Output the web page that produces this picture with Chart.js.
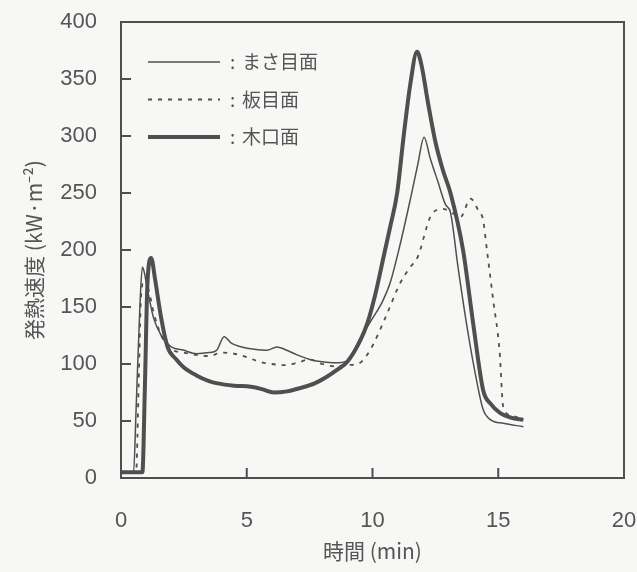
<!DOCTYPE html>
<html>
<head>
<meta charset="utf-8">
<script src="https://cdn.jsdelivr.net/npm/chart.js@4/dist/chart.umd.min.js"></script>
<style>
  body { margin: 0; background: #f7f7f5; }
  canvas { display: block; }
</style>
</head>
<body>
<canvas id="myChart" width="637" height="572"></canvas>
<script>
// series labels
var seriesNames = ["まさ目面", "板目面", "木口面"];

// まさ目面 (thin solid)
var masaTime = [0, 0.3, 0.5, 0.6, 0.75, 0.85, 0.95, 1.1, 1.3, 1.6, 2.0, 2.5, 3.0, 3.5, 3.8, 4.1, 4.4, 4.8, 5.3, 5.8, 6.2, 6.5, 7.0, 7.5, 8.0, 8.5, 9.0, 9.5, 10.0, 10.4, 10.7, 11.1, 11.5, 11.8, 12.05, 12.3, 12.6, 12.9, 13.1, 13.4, 13.8, 14.1, 14.4, 14.7, 15.2, 16.0];
var masaRate = [5, 5, 5, 60, 150, 185, 178, 160, 140, 125, 115, 112, 109, 110, 112, 124, 118, 115, 113, 112, 115, 113, 108, 104, 102, 101, 103, 122, 140, 155, 171, 205, 244, 275, 299, 280, 260, 240, 233, 185, 127, 90, 60, 51, 48, 45];

// 板目面 (dashed)
var itaTime = [0, 0.4, 0.6, 0.7, 0.8, 0.95, 1.1, 1.3, 1.6, 2.0, 2.5, 3.0, 3.5, 4.0, 4.5, 5.0, 5.5, 6.0, 6.5, 7.0, 7.5, 8.0, 8.5, 9.0, 9.5, 9.9, 10.5, 11.1, 11.5, 11.8, 12.3, 12.8, 13.2, 13.5, 13.9, 14.2, 14.4, 14.55, 14.8, 15.05, 15.2, 15.5, 16.0];
var itaRate = [5, 5, 5, 80, 160, 175, 165, 145, 125, 113, 110, 108, 107, 110, 109, 106, 102, 100, 99, 101, 104, 100, 98, 99, 101, 112, 140, 171, 185, 194, 229, 236, 232, 229, 245, 235, 226, 200, 156, 112, 62, 55, 51];

// 木口面 (thick solid)
var koguchiTime = [0, 0.5, 0.85, 0.95, 1.05, 1.2, 1.35, 1.6, 1.85, 2.2, 2.5, 3.0, 3.5, 3.84, 4.5, 5.16, 5.6, 6.08, 6.6, 7.14, 7.7, 8.2, 8.6, 9.0, 9.5, 9.8, 10.1, 10.45, 10.7, 10.98, 11.24, 11.5, 11.77, 11.95, 12.2, 12.5, 12.8, 13.1, 13.6, 14.0, 14.4, 14.7, 15.08, 15.5, 16.0];
var koguchiRate = [5, 5, 5, 80, 170, 193, 175, 140, 115, 104, 97, 90, 85, 83, 81, 80, 78, 75, 76, 79, 83, 89, 95, 102, 120, 136, 160, 195, 220, 250, 300, 345, 374, 362, 330, 295, 270, 250, 200, 136, 77, 65, 57, 53, 51];

// axis ticks
var xTicks = [0, 5, 10, 15, 20];
var yTicks = [0, 50, 100, 150, 200, 250, 300, 350, 400];

function toPoints(xs, ys) {
  return xs.map(function (x, i) {
    return { x: x, y: ys[i] };
  });
}

var lineColor = "#4f4f4f";
var textColor = "#555555";

// frame, inward ticks and the legend inside the plot
var framePlugin = {
  id: "frame",
  afterDraw: function (chart) {
    var ctx = chart.ctx;
    var a = chart.chartArea;
    var xs = chart.scales.x;
    var ys = chart.scales.y;
    ctx.save();
    ctx.strokeStyle = lineColor;
    ctx.lineWidth = 2;
    ctx.strokeRect(a.left, a.top, a.right - a.left, a.bottom - a.top);
    ctx.beginPath();
    for (var i = 1; i < yTicks.length - 1; i++) {
      var py = ys.getPixelForValue(yTicks[i]);
      ctx.moveTo(a.left, py);
      ctx.lineTo(a.left + 10, py);
    }
    for (var j = 1; j < xTicks.length - 1; j++) {
      var px = xs.getPixelForValue(xTicks[j]);
      ctx.moveTo(px, a.bottom);
      ctx.lineTo(px, a.bottom - 10);
    }
    ctx.stroke();

    // legend
    ctx.font = "19px 'Noto Sans CJK JP'";
    ctx.textBaseline = "middle";
    ctx.fillStyle = textColor;
    chart.data.datasets.forEach(function (ds, k) {
      var y = a.top + 40 + k * 37.5;
      ctx.beginPath();
      ctx.strokeStyle = ds.borderColor;
      ctx.lineWidth = ds.borderWidth;
      ctx.setLineDash(ds.borderDash || []);
      ctx.moveTo(a.left + 27, y);
      ctx.lineTo(a.left + 99, y);
      ctx.stroke();
      ctx.setLineDash([]);
      ctx.fillText(":", a.left + 109, y);
      ctx.fillText(ds.label, a.left + 121, y);
    });
    ctx.restore();
  },
};

var canvas = document.getElementById("myChart");

var myChart = new Chart(canvas, {
  type: "line",
  data: {
    datasets: [
      {
        label: seriesNames[0],
        data: toPoints(masaTime, masaRate),
        borderColor: lineColor,
        borderWidth: 1.5,
      },
      {
        label: seriesNames[1],
        data: toPoints(itaTime, itaRate),
        borderColor: lineColor,
        borderWidth: 1.8,
        borderDash: [4, 6],
      },
      {
        label: seriesNames[2],
        data: toPoints(koguchiTime, koguchiRate),
        borderColor: lineColor,
        borderWidth: 4,
      },
    ],
  },
  options: {
    responsive: false,
    animation: false,
    layout: { padding: { top: 22, right: 13, left: 0, bottom: 0 } },
    elements: {
      point: { radius: 0 },
      line: { tension: 0.3, cubicInterpolationMode: "monotone" },
    },
    plugins: {
      legend: { display: false },
      tooltip: { enabled: false },
    },
    scales: {
      x: {
        type: "linear",
        min: 0,
        max: 20,
        afterBuildTicks: function (scale) {
          scale.ticks = xTicks.map(function (v) { return { value: v }; });
        },
        afterFit: function (scale) {
          scale.height = 94;
          scale.paddingLeft = 0;
          scale.paddingRight = 0;
        },
        grid: { display: false, drawTicks: false },
        border: { display: false },
        ticks: {
          color: textColor,
          padding: 30,
          maxRotation: 0,
          font: { family: "'Liberation Sans', Arial", size: 22 },
        },
        title: {
          display: true,
          text: "時間 (min)",
          color: textColor,
          padding: { top: 0, bottom: 8 },
          font: { family: "'Noto Sans CJK JP'", size: 21 },
        },
      },
      y: {
        min: 0,
        max: 400,
        afterBuildTicks: function (scale) {
          scale.ticks = yTicks.map(function (v) { return { value: v }; });
        },
        afterFit: function (scale) {
          scale.width = 121;
          scale.paddingTop = 0;
          scale.paddingBottom = 0;
        },
        grid: { display: false, drawTicks: false },
        border: { display: false },
        ticks: {
          color: textColor,
          padding: 24,
          font: { family: "'Liberation Sans', Arial", size: 22 },
        },
        title: {
          display: true,
          text: "発熱速度 (kW·m⁻²)",
          color: textColor,
          padding: { top: 21, bottom: 0 },
          font: { family: "'Noto Sans CJK JP'", size: 21 },
        },
      },
    },
  },
  plugins: [framePlugin],
});
</script>
</body>
</html>
